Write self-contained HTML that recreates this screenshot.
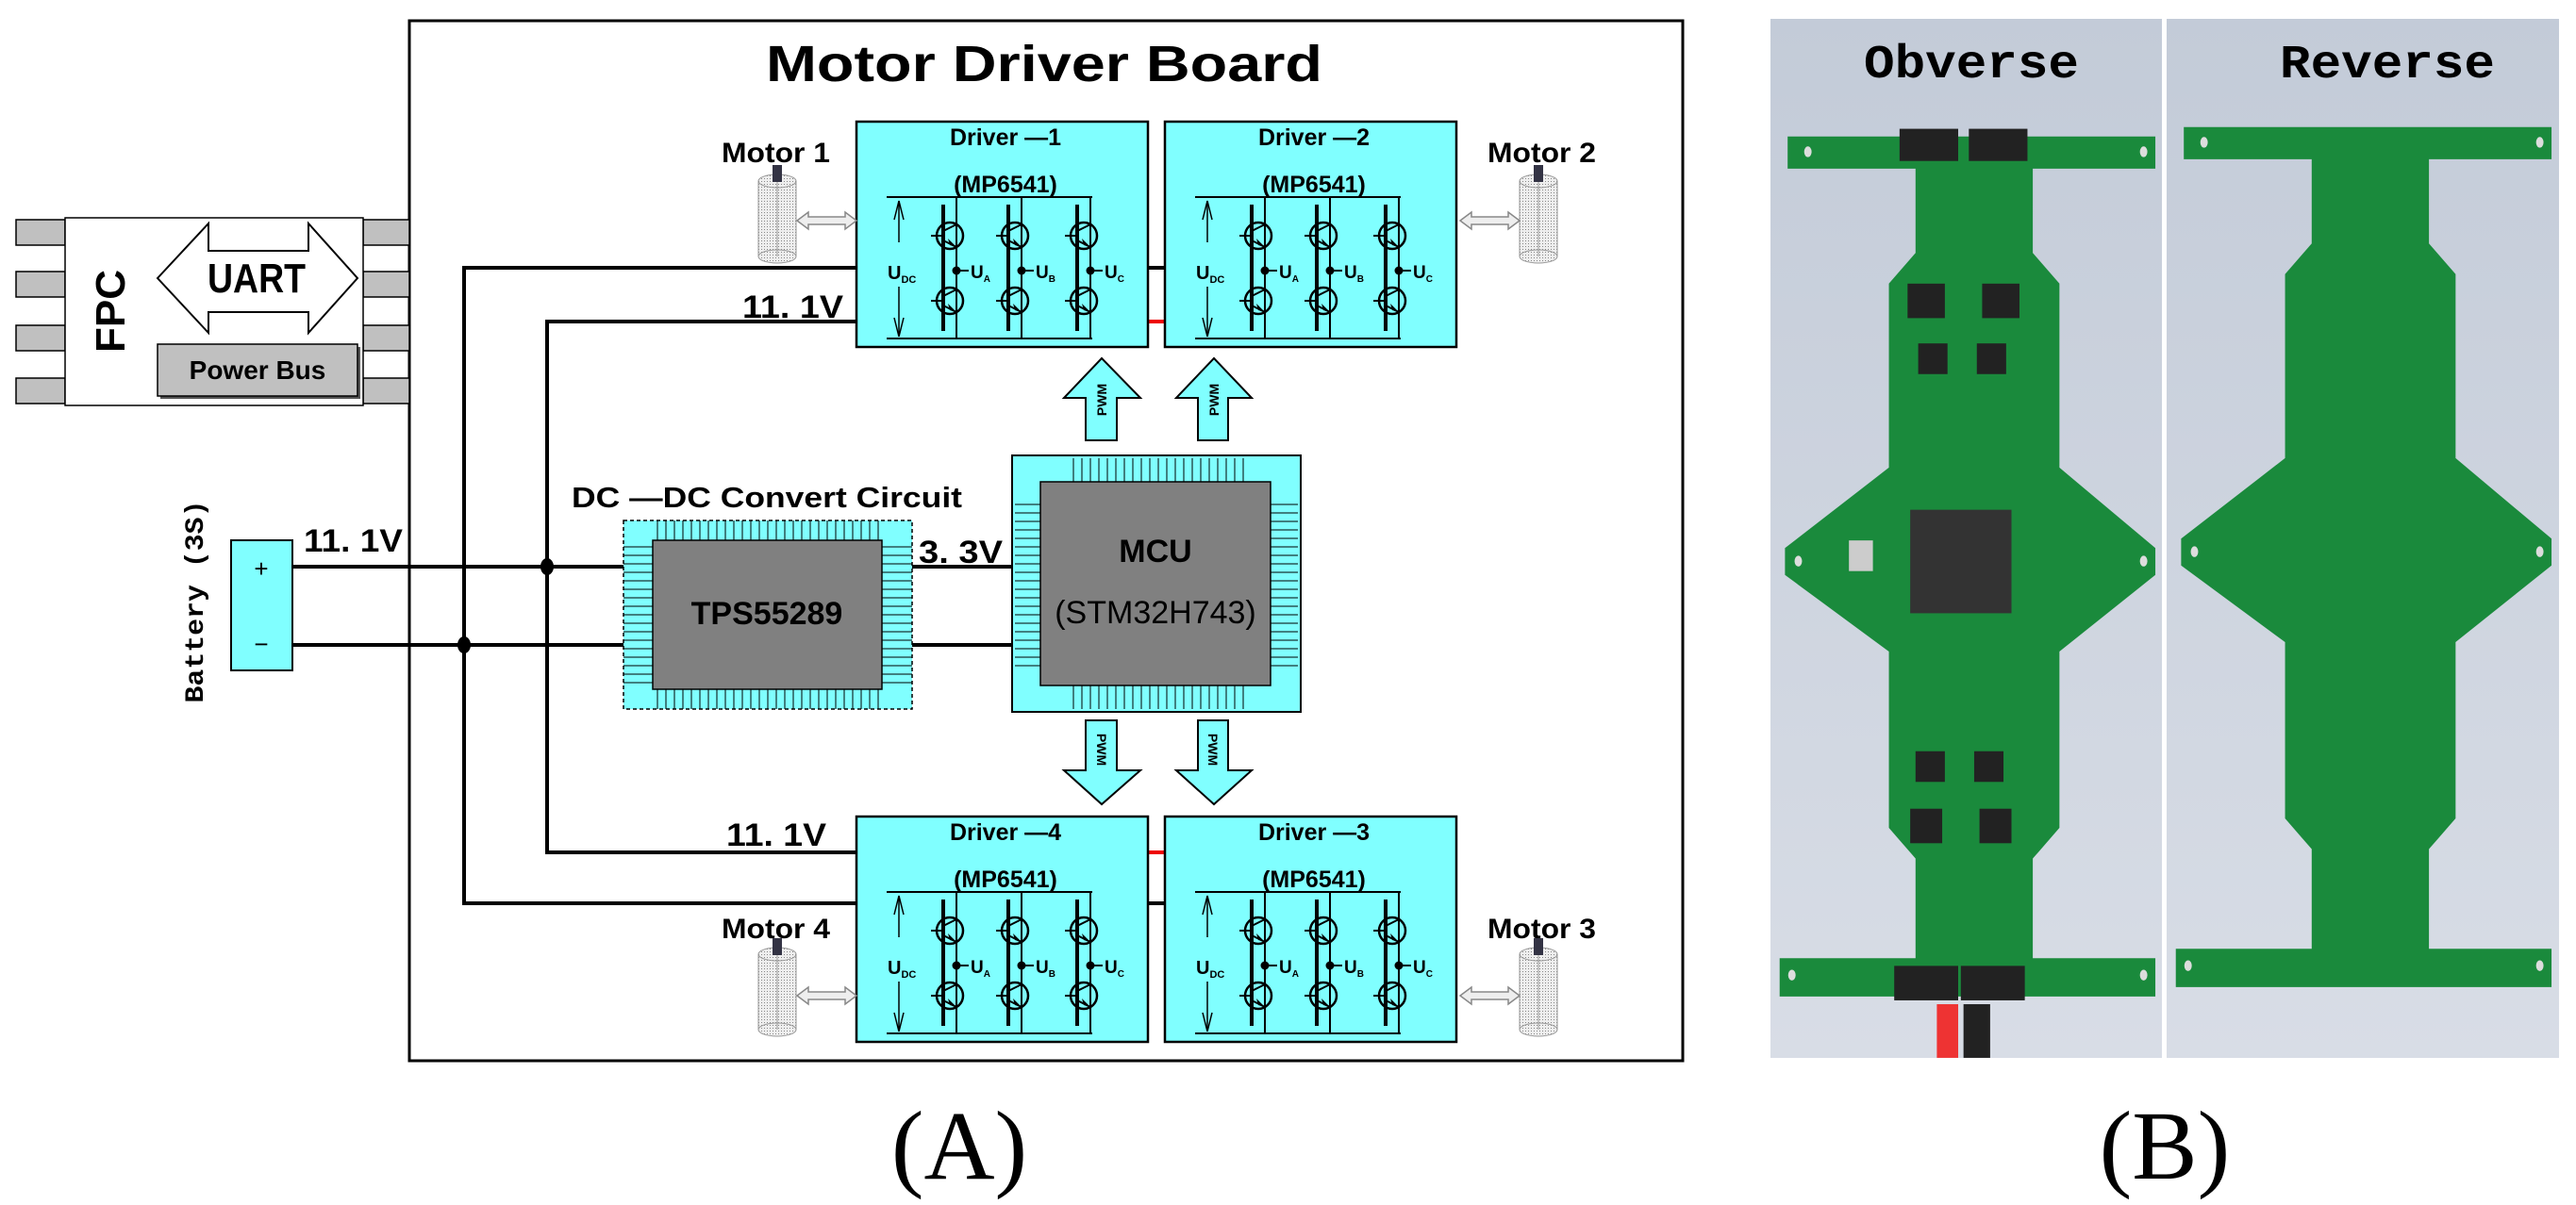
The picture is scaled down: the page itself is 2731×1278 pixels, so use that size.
<!DOCTYPE html>
<html><head><meta charset="utf-8"><style>html,body{margin:0;padding:0;background:#fff}svg{display:block;font-family:"Liberation Sans","WenQuanYi Zen Hei",sans-serif;font-weight:bold}</style></head><body>
<svg width="2731" height="1278" viewBox="0 0 2731 1278" xmlns="http://www.w3.org/2000/svg">
<defs>
<pattern id="vs" width="9" height="10" patternUnits="userSpaceOnUse"><rect width="9" height="10" fill="#80ffff"/><line x1="4" y1="0" x2="4" y2="10" stroke="#000" stroke-width="1"/></pattern>
<pattern id="hs" width="10" height="9" patternUnits="userSpaceOnUse"><rect width="10" height="9" fill="#80ffff"/><line x1="0" y1="4" x2="10" y2="4" stroke="#000" stroke-width="1"/></pattern>
<pattern id="dot" width="3" height="3" patternUnits="userSpaceOnUse"><rect width="3" height="3" fill="#eee"/><rect width="1" height="1" fill="#888"/></pattern>
<g id="tr">
<circle cx="0" cy="0" r="14" fill="none" stroke="#000" stroke-width="2.5"/>
<line x1="-7" y1="-14" x2="-7" y2="14" stroke="#000" stroke-width="4"/>
<line x1="-20" y1="0" x2="-7" y2="0" stroke="#000" stroke-width="2"/>
<line x1="-7" y1="-5" x2="7" y2="-12" stroke="#000" stroke-width="2"/>
<line x1="-7" y1="5" x2="7" y2="12" stroke="#000" stroke-width="2"/>
<polygon points="7,12 -2,3 0,10" fill="#000"/>
</g>
<g id="col">
<line x1="-7" y1="88" x2="-7" y2="222" stroke="#000" stroke-width="4"/>
<line x1="7" y1="80" x2="7" y2="230" stroke="#000" stroke-width="2"/>
<use href="#tr" x="0" y="121"/>
<use href="#tr" x="0" y="190"/>
<circle cx="7" cy="158" r="4.5" fill="#000"/>
<line x1="7" y1="158" x2="20" y2="158" stroke="#000" stroke-width="2"/>
</g>
<g id="drv">
<rect x="0" y="0" width="309" height="239" fill="#80ffff" stroke="#000" stroke-width="2.5"/>
<line x1="32" y1="80" x2="250" y2="80" stroke="#000" stroke-width="2"/>
<line x1="32" y1="230" x2="250" y2="230" stroke="#000" stroke-width="2"/>
<line x1="45" y1="84" x2="45" y2="128" stroke="#000" stroke-width="1.5"/>
<polyline points="40,104 45,84 50,104" fill="none" stroke="#000" stroke-width="1.5"/>
<line x1="45" y1="175" x2="45" y2="228" stroke="#000" stroke-width="1.5"/>
<polyline points="40,208 45,228 50,208" fill="none" stroke="#000" stroke-width="1.5"/>
<text x="33" y="167" font-size="20">U<tspan font-size="11" dy="4">DC</tspan></text>
<use href="#col" x="99"/><use href="#col" x="168"/><use href="#col" x="241"/>
<text x="121" y="166" font-size="19">U<tspan font-size="10" dy="4">A</tspan></text>
<text x="190" y="166" font-size="19">U<tspan font-size="10" dy="4">B</tspan></text>
<text x="263" y="166" font-size="19">U<tspan font-size="10" dy="4">C</tspan></text>
</g>
<g id="motor">
<rect x="0" y="12" width="40" height="80" fill="url(#dot)" stroke="#999" stroke-width="1"/>
<ellipse cx="20" cy="12" rx="20" ry="7" fill="url(#dot)" stroke="#999"/>
<ellipse cx="20" cy="92" rx="20" ry="7" fill="url(#dot)" stroke="#999"/>
<line x1="20" y1="12" x2="20" y2="92" stroke="#999"/>
<rect x="15" y="-5" width="10" height="18" fill="#334"/>
</g>
<g id="darr">
<polygon points="0,9 12,0 12,5 51,5 51,0 63,9 51,18 51,13 12,13 12,18" fill="#eee" stroke="#888" stroke-width="1.5"/>
</g>
</defs>

<rect x="434" y="22" width="1350" height="1103" fill="#fff" stroke="#000" stroke-width="3"/>
<text x="1107" y="86" font-size="54" text-anchor="middle" textLength="590" lengthAdjust="spacingAndGlyphs">Motor Driver Board</text>

<g stroke="#000" stroke-width="4" fill="none">
<line x1="310" y1="601" x2="661" y2="601"/>
<line x1="310" y1="684" x2="661" y2="684"/>
<line x1="967" y1="601" x2="1073" y2="601"/>
<line x1="967" y1="684" x2="1073" y2="684"/>
<polyline points="908,284 492,284 492,958 908,958"/>
<polyline points="908,341 580,341 580,904 908,904"/>
<line x1="1217" y1="284" x2="1235" y2="284"/>
<line x1="1217" y1="958" x2="1235" y2="958"/>
</g>
<line x1="1217" y1="341" x2="1235" y2="341" stroke="#e00" stroke-width="4"/>
<line x1="1217" y1="904" x2="1235" y2="904" stroke="#e00" stroke-width="4"/>
<ellipse cx="580" cy="601" rx="7" ry="9" fill="#000"/>
<ellipse cx="492" cy="684" rx="7" ry="9" fill="#000"/>

<use href="#drv" x="908" y="129"/>
<use href="#drv" x="1235" y="129"/>
<use href="#drv" x="908" y="866"/>
<use href="#drv" x="1235" y="866"/>
<g font-size="25" text-anchor="middle">
<text x="1066" y="154">Driver —1</text>
<text x="1393" y="154">Driver —2</text>
<text x="1066" y="891">Driver —4</text>
<text x="1393" y="891">Driver —3</text>
<text x="1066" y="204">(MP6541)</text>
<text x="1393" y="204">(MP6541)</text>
<text x="1066" y="941">(MP6541)</text>
<text x="1393" y="941">(MP6541)</text>
</g>

<g font-size="30">
<text x="765" y="172" textLength="115" lengthAdjust="spacingAndGlyphs">Motor 1</text>
<text x="1577" y="172" textLength="115" lengthAdjust="spacingAndGlyphs">Motor 2</text>
<text x="765" y="995" textLength="115" lengthAdjust="spacingAndGlyphs">Motor 4</text>
<text x="1577" y="995" textLength="115" lengthAdjust="spacingAndGlyphs">Motor 3</text>
</g>
<use href="#motor" x="804" y="180"/>
<use href="#motor" x="1611" y="180"/>
<use href="#motor" x="804" y="1000"/>
<use href="#motor" x="1611" y="1000"/>
<use href="#darr" x="845" y="225"/>
<use href="#darr" x="1548" y="225"/>
<use href="#darr" x="845" y="1047"/>
<use href="#darr" x="1548" y="1047"/>

<g fill="#80ffff" stroke="#000" stroke-width="2">
<polygon points="1168,380 1209,422 1184,422 1184,467 1151,467 1151,422 1128,422"/>
<polygon points="1287,380 1327,422 1302,422 1302,467 1270,467 1270,422 1247,422"/>
<polygon points="1151,764 1184,764 1184,817 1209,817 1168,853 1128,817 1151,817"/>
<polygon points="1270,764 1302,764 1302,817 1327,817 1287,853 1247,817 1270,817"/>
</g>
<g font-size="14">
<text transform="translate(1173,424) rotate(-90)" text-anchor="middle">PWM</text>
<text transform="translate(1292,424) rotate(-90)" text-anchor="middle">PWM</text>
<text transform="translate(1163,795) rotate(90)" text-anchor="middle">PWM</text>
<text transform="translate(1281,795) rotate(90)" text-anchor="middle">PWM</text>
</g>

<rect x="661" y="552" width="306" height="200" fill="#80ffff"/>
<rect x="692" y="552" width="243" height="21" fill="url(#vs)"/>
<rect x="692" y="731" width="243" height="21" fill="url(#vs)"/>
<rect x="661" y="573" width="31" height="158" fill="url(#hs)"/>
<rect x="935" y="573" width="32" height="158" fill="url(#hs)"/>
<rect x="661" y="552" width="306" height="200" fill="none" stroke="#000" stroke-width="1.5" stroke-dasharray="4,3"/>
<rect x="692" y="573" width="243" height="158" fill="#808080" stroke="#000" stroke-width="1.5"/>
<text x="813" y="662" font-size="34" text-anchor="middle">TPS55289</text>
<text x="606" y="538" font-size="31" textLength="414" lengthAdjust="spacingAndGlyphs">DC —DC Convert Circuit</text>

<rect x="1073" y="483" width="306" height="272" fill="#80ffff" stroke="#000" stroke-width="2"/>
<rect x="1130" y="486" width="190" height="25" fill="url(#vs)"/>
<rect x="1130" y="727" width="190" height="25" fill="url(#vs)"/>
<rect x="1076" y="530" width="27" height="180" fill="url(#hs)"/>
<rect x="1347" y="530" width="29" height="180" fill="url(#hs)"/>
<rect x="1103" y="511" width="244" height="216" fill="#808080" stroke="#000" stroke-width="1.5"/>
<text x="1225" y="596" font-size="34" text-anchor="middle">MCU</text>
<text x="1225" y="661" font-size="34" text-anchor="middle" font-weight="normal">(STM32H743)</text>

<g font-size="34">
<text x="787" y="337" textLength="107" lengthAdjust="spacingAndGlyphs">11. 1V</text>
<text x="322" y="585" textLength="105" lengthAdjust="spacingAndGlyphs">11. 1V</text>
<text x="770" y="897" textLength="106" lengthAdjust="spacingAndGlyphs">11. 1V</text>
<text x="974" y="597" textLength="89" lengthAdjust="spacingAndGlyphs">3. 3V</text>
</g>

<rect x="245" y="573" width="65" height="138" fill="#80ffff" stroke="#000" stroke-width="2"/>
<text x="277" y="612" font-size="26" text-anchor="middle" font-weight="normal">+</text>
<text x="277" y="692" font-size="26" text-anchor="middle" font-weight="normal">−</text>
<text transform="translate(215,638) rotate(-90)" font-size="28" text-anchor="middle" font-family="Liberation Mono" textLength="215" lengthAdjust="spacingAndGlyphs">Battery (3S)</text>

<g fill="#c0c0c0" stroke="#000" stroke-width="1.5">
<rect x="17" y="233" width="52" height="27"/><rect x="17" y="288" width="52" height="27"/><rect x="17" y="345" width="52" height="27"/><rect x="17" y="401" width="52" height="27"/>
<rect x="385" y="233" width="49" height="27"/><rect x="385" y="288" width="49" height="27"/><rect x="385" y="345" width="49" height="27"/><rect x="385" y="401" width="49" height="27"/>
</g>
<rect x="69" y="231" width="316" height="199" fill="#fff" stroke="#000" stroke-width="1.5"/>
<polygon points="167,295 221,237 221,266 327,266 327,237 379,295 327,353 327,331 221,331 221,353" fill="#fff" stroke="#000" stroke-width="2"/>
<text x="272" y="310" font-size="44" text-anchor="middle" textLength="104" lengthAdjust="spacingAndGlyphs">UART</text>
<rect x="170" y="368" width="212" height="55" fill="#555"/>
<rect x="167" y="365" width="212" height="55" fill="#c0c0c0" stroke="#000" stroke-width="1.5"/>
<text x="273" y="402" font-size="28" text-anchor="middle">Power Bus</text>
<text transform="translate(132,330) rotate(-90)" font-size="44" text-anchor="middle">FPC</text>

<text x="1017" y="1250" font-size="104" text-anchor="middle" font-family="Liberation Serif" font-weight="normal">(A)</text>
<text x="2295" y="1250" font-size="104" text-anchor="middle" font-family="Liberation Serif" font-weight="normal">(B)</text>

<defs>
<linearGradient id="bg" x1="0" y1="0" x2="0" y2="1"><stop offset="0" stop-color="#c3cbd8"/><stop offset="1" stop-color="#d8dde6"/></linearGradient>
<g id="pcb">
<polygon points="80,178 770,178 770,220 540,220 540,330 590,370 590,610 770,715 770,750 590,850 590,1080 540,1120 540,1250 770,1250 770,1300 65,1300 65,1250 320,1250 320,1120 270,1080 270,850 75,750 75,715 270,610 270,370 320,330 320,220 80,220" fill="#1a8a3c"/>
<circle cx="118" cy="198" r="7" fill="#ddd"/><circle cx="748" cy="198" r="7" fill="#ddd"/>
<circle cx="100" cy="732" r="7" fill="#ddd"/><circle cx="748" cy="732" r="7" fill="#ddd"/>
<circle cx="88" cy="1272" r="7" fill="#ddd"/><circle cx="748" cy="1272" r="7" fill="#ddd"/>
</g>
</defs>
<rect x="1877" y="20" width="415" height="1102" fill="url(#bg)"/>
<rect x="2297" y="20" width="416" height="1102" fill="url(#bg)"/>
<g transform="translate(1850,0) scale(0.565,0.813)">
<use href="#pcb"/>
<g fill="#222">
<rect x="290" y="168" width="110" height="42"/><rect x="420" y="168" width="110" height="42"/>
<rect x="310" y="665" width="190" height="135" fill="#333"/>
<rect x="305" y="370" width="70" height="45"/><rect x="445" y="370" width="70" height="45"/>
<rect x="325" y="448" width="55" height="40"/><rect x="435" y="448" width="55" height="40"/>
<rect x="320" y="980" width="55" height="40"/><rect x="430" y="980" width="55" height="40"/>
<rect x="310" y="1055" width="60" height="45"/><rect x="440" y="1055" width="60" height="45"/>
<rect x="280" y="1260" width="120" height="45"/><rect x="405" y="1260" width="120" height="45"/>
</g>
<rect x="195" y="705" width="45" height="40" fill="#ccc"/>
<rect x="360" y="1310" width="40" height="70" fill="#e33"/><rect x="410" y="1310" width="50" height="70" fill="#222"/>
</g>
<g transform="translate(2270,-10) scale(0.565,0.813)">
<use href="#pcb"/>
<g fill="#222">
<rect x="1240" y="620" width="70" height="55" transform="rotate(-40 1275 647)"/>
<rect x="1060" y="870" width="75" height="40"/><rect x="1185" y="870" width="75" height="40"/>
<rect x="990" y="705" width="40" height="35"/>
</g>
<g fill="#c9a070"><rect x="1085" y="255" width="30" height="45"/><rect x="1180" y="255" width="30" height="45"/><rect x="1085" y="1150" width="30" height="45"/><rect x="1175" y="1150" width="30" height="45"/><rect x="1180" y="520" width="60" height="20"/><rect x="1180" y="555" width="60" height="20"/></g>
<rect x="1090" y="1310" width="30" height="80" fill="#222"/><rect x="1135" y="1310" width="60" height="80" fill="#e33"/>
</g>
<text x="2090" y="82" font-size="50" text-anchor="middle" font-family="Liberation Mono" textLength="228" lengthAdjust="spacingAndGlyphs">Obverse</text>
<text x="2531" y="82" font-size="50" text-anchor="middle" font-family="Liberation Mono" textLength="228" lengthAdjust="spacingAndGlyphs">Reverse</text>
</svg>
</body></html>
